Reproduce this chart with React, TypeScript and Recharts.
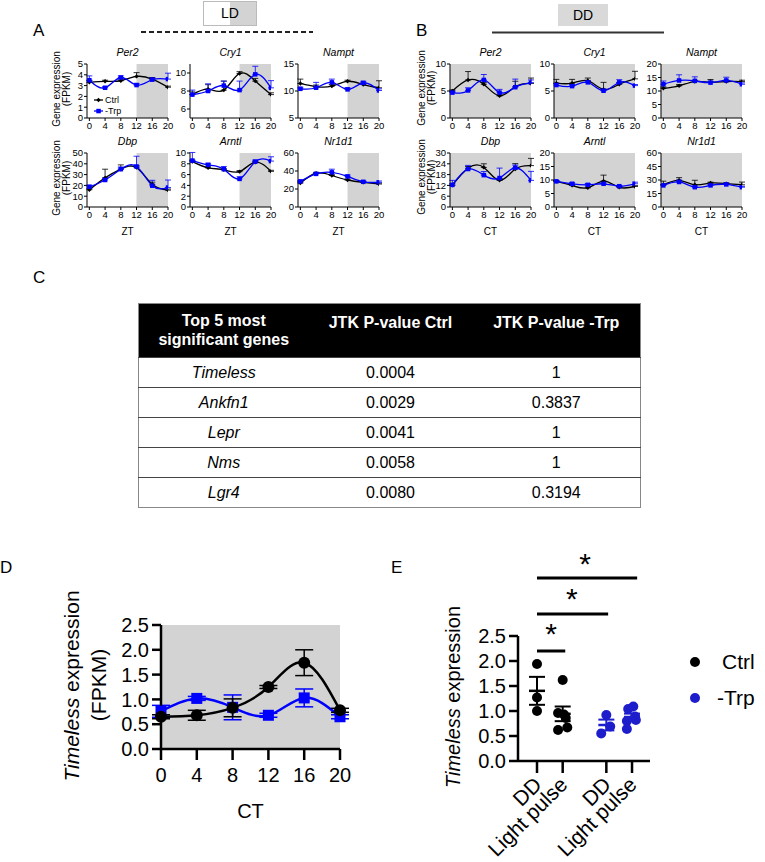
import React from 'react';
import {
  LineChart, Line, XAxis, YAxis, ReferenceArea, ErrorBar,
  ScatterChart, Scatter, ReferenceLine, ReferenceDot,
} from 'recharts';

const FONT = '"Liberation Sans", Arial, sans-serif';
const BLUE = '#0000ff';
const BLUE_E = '#1d1dcc';
const GRAY = '#d3d3d3';

const hours = [0, 4, 8, 12, 16, 20];

// panel A (LD), FPKM, upper error only
const ldPer2 = { ctrl: [3.3, 3.4, 3.45, 3.85, 3.6, 2.85], ctrlErr: [0.15, 0.1, 0.15, 0.35, 0.15, 0.1], trp: [3.5, 2.8, 3.75, 3.05, 3.55, 3.6], trpErr: [0.4, 0.1, 0.15, 0.15, 0.15, 0.55] };
const ldCry1 = { ctrl: [7.6, 8.2, 8.1, 9.95, 9.1, 7.6], ctrlErr: [0.3, 0.5, 1.0, 0.2, 0.3, 0.2], trp: [7.6, 8.0, 8.6, 8.1, 9.85, 8.35], trpErr: [0.5, 0.8, 0.5, 1.0, 0.9, 0.8] };
const ldNampt = { ctrl: [11.4, 10.8, 10.9, 11.8, 11.2, 10.6], ctrlErr: [0.8, 0.3, 0.3, 0.2, 0.3, 1.3], trp: [10.4, 10.6, 11.6, 10.3, 11.5, 10.1], trpErr: [0.3, 1.0, 0.6, 0.3, 0.3, 0.3] };
const ldDbp = { ctrl: [16, 27, 35, 36.5, 21, 15.6], ctrlErr: [1, 8, 4, 2, 2, 1], trp: [18.7, 25, 35, 37.5, 19.7, 18], trpErr: [1.5, 1.5, 2, 9.5, 5, 7] };
const ldArntl = { ctrl: [8.4, 7.25, 6.9, 6.55, 8.3, 6.6], ctrlErr: [0.3, 0.2, 0.2, 0.2, 0.2, 0.2], trp: [8.6, 7.8, 7.0, 5.2, 8.4, 8.5], trpErr: [1.5, 0.3, 0.5, 0.4, 0.3, 0.8] };
const ldNr1d1 = { ctrl: [26.6, 37.5, 35, 30, 27.4, 25.5], ctrlErr: [1, 1, 1, 1, 1, 1], trp: [28.5, 36.8, 38.5, 34, 28, 27.4], trpErr: [1, 1, 3.5, 1.5, 1, 1.5] };

// panel B (DD)
const ddPer2 = { ctrl: [5, 7.05, 6.25, 4.1, 5.8, 6.4], ctrlErr: [0.2, 1.55, 0.3, 0.2, 1.0, 1.0], trp: [4.7, 5.1, 7.05, 4.7, 5.7, 6.55], trpErr: [0.2, 0.5, 1.0, 0.6, 1.5, 0.5] };
const ddCry1 = { ctrl: [6.45, 6.45, 6.9, 5.3, 6.25, 7.25], ctrlErr: [0.7, 0.7, 0.5, 1.3, 0.3, 1.4], trp: [6.1, 5.9, 6.6, 5.05, 6.6, 6.0], trpErr: [0.3, 0.3, 0.3, 0.3, 0.5, 0.2] };
const ddNampt = { ctrl: [11, 11.9, 13.5, 13.25, 13.5, 13.5], ctrlErr: [0.5, 0.5, 0.5, 1.0, 0.5, 0.5], trp: [12.5, 13.9, 13.75, 13.1, 13.9, 12.5], trpErr: [1.2, 2.1, 1.5, 0.5, 1.2, 0.5] };
const ddDbp = { ctrl: [12, 21.5, 22, 14.8, 21.1, 23], ctrlErr: [1, 1, 2, 1, 3, 4], trp: [12.3, 21.1, 17.7, 16.1, 21.8, 14.8], trpErr: [2.5, 2, 2, 5.5, 1.5, 5] };
const ddArntl = { ctrl: [9.5, 8, 7.1, 9.6, 7.3, 7.6], ctrlErr: [0.3, 0.3, 0.3, 2.2, 0.3, 0.3], trp: [9.5, 8.6, 8.2, 8.6, 7.7, 8.6], trpErr: [0.3, 0.5, 0.5, 0.4, 0.3, 0.6] };
const ddNr1d1 = { ctrl: [24.7, 29.6, 24.7, 26.6, 25.9, 24.7], ctrlErr: [4, 3, 5, 1, 1, 3], trp: [24, 27.8, 22, 24, 25.1, 22], trpErr: [1, 2, 1, 1, 1, 1] };

// panel C
const tableHead = ['Top 5 most\nsignificant genes', 'JTK P-value Ctrl', 'JTK P-value -Trp'];
const genes = ['Timeless', 'Ankfn1', 'Lepr', 'Nms', 'Lgr4'];
const pCtrl = ['0.0004', '0.0029', '0.0041', '0.0058', '0.0080'];
const pTrp = ['1', '0.3837', '1', '1', '0.3194'];

// panel D, Timeless FPKM in DD
const dCtrl = [0.65, 0.68, 0.83, 1.25, 1.74, 0.78];
const dCtrlErr = [0.04, 0.1, 0.18, 0.03, 0.26, 0.04];
const dTrp = [0.76, 1.02, 0.84, 0.68, 1.03, 0.65];
const dTrpErr = [0.12, 0.04, 0.25, 0.04, 0.18, 0.04];

// panel E, individual animals (value, jitter in category units)
const ePos = [1, 2, 3.7, 4.7];
const eLabels = ['DD', 'Light pulse', 'DD', 'Light pulse'];
const eCtrlDD = [1.94, 1.27, 1.0];
const eCtrlDDJit = [0, 0, 0];
const eCtrlLP = [1.62, 0.96, 0.93, 0.86, 0.67, 0.62];
const eCtrlLPJit = [0, -0.18, 0.05, 0.12, 0.18, -0.18];
const eTrpDD = [0.92, 0.69, 0.55];
const eTrpDDJit = [0, 0.15, -0.2];
const eTrpLP = [1.09, 1.04, 0.89, 0.82, 0.8, 0.64];
const eTrpLPJit = [0.05, -0.15, 0.12, 0.15, -0.2, -0.2];

type Series = { ctrl: number[]; ctrlErr: number[]; trp: number[]; trpErr: number[] };

const XMIN = -0.6;

const diamond = (color: string, r: number) => (p: any) => {
  const { cx, cy, index } = p;
  if (cx == null || cy == null) return <g key={index} />;
  return <path key={index} d={`M${cx},${cy - r}L${cx + r},${cy}L${cx},${cy + r}L${cx - r},${cy}Z`} fill={color} />;
};
const square = (color: string, s: number) => (p: any) => {
  const { cx, cy, index } = p;
  if (cx == null || cy == null) return <g key={index} />;
  return <rect key={index} x={cx - s / 2} y={cy - s / 2} width={s} height={s} fill={color} />;
};
const circle = (color: string, r: number) => (p: any) => {
  const { cx, cy, index } = p;
  if (cx == null || cy == null) return <g key={index} />;
  return <circle key={index} cx={cx} cy={cy} r={r} fill={color} />;
};

function VLabel({ cx, cy, size, children }: { cx: number; cy: number; size: number; children: React.ReactNode }) {
  return (
    <div style={{ position: 'absolute', left: cx, top: cy, transform: 'translate(-50%,-50%) rotate(-90deg)', whiteSpace: 'nowrap', fontSize: size, lineHeight: 1 }}>
      {children}
    </div>
  );
}

function SmallChart({ title, s, yDomain, yTicks, x0, y0, shadeFrom, xLabel }: {
  title: string; s: Series; yDomain: number[]; yTicks: number[]; x0: number; y0: number; shadeFrom: number; xLabel?: string;
}) {
  const data = hours.map((t, i) => ({ t, ctrl: s.ctrl[i], ctrlErr: [0, s.ctrlErr[i]], trp: s.trp[i], trpErr: [0, s.trpErr[i]] }));
  const yw = 22, mt = 16, plotW = 81, plotH = 54, xh = 32, mr = 8;
  const ax = { stroke: '#000', strokeWidth: 1 };
  return (
    <div style={{ position: 'absolute', left: x0 - yw, top: y0 - mt }}>
      <div style={{ position: 'absolute', left: yw, width: plotW, top: -2, textAlign: 'center', fontStyle: 'italic', fontSize: 10.5, lineHeight: '12px' }}>{title}</div>
      <LineChart width={yw + plotW + mr} height={mt + plotH + xh} data={data} margin={{ top: mt, right: mr, left: 0, bottom: 0 }}>
        <ReferenceArea x1={shadeFrom} x2={20} fill={GRAY} fillOpacity={1} stroke="none" ifOverflow="hidden" />
        <XAxis dataKey="t" type="number" domain={[XMIN, 20]} ticks={hours} allowDataOverflow interval={0}
          tickSize={3} tickMargin={1} axisLine={ax} tickLine={ax} tick={{ fill: '#000', fontSize: 9.5 }} height={xh}
          label={xLabel ? { value: xLabel, position: 'insideBottom', offset: 4, fill: '#000', fontSize: 10 } : undefined} />
        <YAxis type="number" domain={yDomain} ticks={yTicks} allowDataOverflow interval={0} width={yw}
          tickSize={3} tickMargin={1} axisLine={ax} tickLine={ax} tick={{ fill: '#000', fontSize: 9.5 }} />
        <Line dataKey="ctrl" type="natural" stroke="#000" strokeWidth={1.3} dot={diamond('#000', 2.2)} isAnimationActive={false}>
          <ErrorBar dataKey="ctrlErr" width={3} stroke="#000" strokeWidth={0.8} direction="y" />
        </Line>
        <Line dataKey="trp" type="natural" stroke={BLUE} strokeWidth={1.3} dot={square(BLUE, 4.5)} isAnimationActive={false}>
          <ErrorBar dataKey="trpErr" width={3} stroke={BLUE} strokeWidth={0.8} direction="y" />
        </Line>
      </LineChart>
    </div>
  );
}

const ldCharts = [
  { title: 'Per2', s: ldPer2, dom: [0, 5], ticks: [0, 1, 2, 3, 4, 5] },
  { title: 'Cry1', s: ldCry1, dom: [5, 11], ticks: [6, 8, 10] },
  { title: 'Nampt', s: ldNampt, dom: [5, 15], ticks: [5, 10, 15] },
  { title: 'Dbp', s: ldDbp, dom: [0, 50], ticks: [0, 10, 20, 30, 40, 50] },
  { title: 'Arntl', s: ldArntl, dom: [0, 10], ticks: [0, 2, 4, 6, 8, 10] },
  { title: 'Nr1d1', s: ldNr1d1, dom: [0, 60], ticks: [0, 20, 40, 60] },
];
const ddCharts = [
  { title: 'Per2', s: ddPer2, dom: [0, 10], ticks: [0, 5, 10] },
  { title: 'Cry1', s: ddCry1, dom: [0, 10], ticks: [0, 5, 10] },
  { title: 'Nampt', s: ddNampt, dom: [0, 20], ticks: [0, 5, 10, 15, 20] },
  { title: 'Dbp', s: ddDbp, dom: [0, 30], ticks: [0, 6, 12, 18, 24, 30] },
  { title: 'Arntl', s: ddArntl, dom: [0, 20], ticks: [0, 5, 10, 15, 20] },
  { title: 'Nr1d1', s: ddNr1d1, dom: [0, 60], ticks: [0, 15, 30, 45, 60] },
];
const colA = [87, 190, 298];
const colB = [450, 554, 661];
const rowY = [64, 153];

function PanelD() {
  const data = hours.map((t, i) => ({ t, ctrl: dCtrl[i], ctrlErr: dCtrlErr[i], trp: dTrp[i], trpErr: dTrpErr[i] }));
  const ax = { stroke: '#000', strokeWidth: 2.5 };
  return (
    <div style={{ position: 'absolute', left: 161 - 50, top: 625 - 10 }}>
      <LineChart width={50 + 179 + 16} height={10 + 124 + 72} data={data} margin={{ top: 10, right: 16, left: 0, bottom: 0 }}>
        <ReferenceArea x1={0} x2={20} fill={GRAY} fillOpacity={1} stroke="none" />
        <XAxis dataKey="t" type="number" domain={[0, 20]} ticks={hours} interval={0} tickSize={11} tickMargin={8}
          axisLine={ax} tickLine={ax} tick={{ fill: '#000', fontSize: 20 }} height={72}
          label={{ value: 'CT', position: 'insideBottom', offset: 3, fill: '#000', fontSize: 20 }} />
        <YAxis type="number" domain={[0, 2.5]} ticks={[0, 0.5, 1, 1.5, 2, 2.5]} interval={0} width={50}
          tickFormatter={(v: number) => v.toFixed(1)} tickSize={9} tickMargin={3}
          axisLine={ax} tickLine={ax} tick={{ fill: '#000', fontSize: 20 }} />
        <Line dataKey="trp" type="natural" stroke={BLUE} strokeWidth={2.5} dot={square(BLUE, 11)} isAnimationActive={false}>
          <ErrorBar dataKey="trpErr" width={9} stroke={BLUE} strokeWidth={1.5} direction="y" />
        </Line>
        <Line dataKey="ctrl" type="natural" stroke="#000" strokeWidth={2.5} dot={circle('#000', 6)} isAnimationActive={false}>
          <ErrorBar dataKey="ctrlErr" width={9} stroke="#000" strokeWidth={1.5} direction="y" />
        </Line>
      </LineChart>
    </div>
  );
}

const mean = (a: number[]) => a.reduce((s, v) => s + v, 0) / a.length;
const sem = (a: number[]) => {
  const m = mean(a);
  return Math.sqrt(a.reduce((s, v) => s + (v - m) ** 2, 0) / (a.length - 1)) / Math.sqrt(a.length);
};

const ETick = (p: any) => {
  const i = ePos.indexOf(p.payload.value);
  return (
    <text x={0} y={0} transform={`translate(${p.x + 6},${p.y + 11}) rotate(-45)`} textAnchor="end" fontSize={21} fill="#000">
      {eLabels[i]}
    </text>
  );
};
const meanShape = (color: string) => (p: any) => (
  <line x1={p.cx - 8} x2={p.cx + 8} y1={p.cy} y2={p.cy} stroke={color} strokeWidth={2.5} />
);
const starShape = (p: any) => (
  <text x={p.cx} y={p.cy + 12} textAnchor="middle" fontSize={30} fill="#000">*</text>
);

function PanelE() {
  const pts = (vals: number[], jit: number[], pos: number) => vals.map((y, i) => ({ x: pos + jit[i], y }));
  const ctrlPts = [...pts(eCtrlDD, eCtrlDDJit, ePos[0]), ...pts(eCtrlLP, eCtrlLPJit, ePos[1])];
  const trpPts = [...pts(eTrpDD, eTrpDDJit, ePos[2]), ...pts(eTrpLP, eTrpLPJit, ePos[3])];
  const ctrlMeans = [eCtrlDD, eCtrlLP].map((g, i) => ({ x: ePos[i], y: mean(g), err: sem(g) }));
  const trpMeans = [eTrpDD, eTrpLP].map((g, i) => ({ x: ePos[i + 2], y: mean(g), err: sem(g) }));
  const ax = { stroke: '#000', strokeWidth: 2.5 };
  const bars = [
    { x2: 2.1, y: 2.2, sx: 1.55, sy: 2.58 },
    { x2: 3.77, y: 2.94, sx: 2.36, sy: 3.28 },
    { x2: 4.9, y: 3.66, sx: 2.87, sy: 3.98 },
  ];
  return (
    <div style={{ position: 'absolute', left: 518 - 55, top: 636 - 90 }}>
      <ScatterChart width={55 + 132 + 10} height={90 + 125 + 100} margin={{ top: 90, right: 10, left: 0, bottom: 0 }}>
        <XAxis type="number" dataKey="x" domain={[0.26, 5.4]} ticks={ePos} interval={0} allowDataOverflow
          tick={ETick} tickSize={12} tickMargin={2} height={100} axisLine={ax} tickLine={ax} />
        <YAxis type="number" dataKey="y" domain={[0, 2.5]} ticks={[0, 0.5, 1, 1.5, 2, 2.5]} interval={0} allowDataOverflow
          width={55} tickFormatter={(v: number) => v.toFixed(1)} tickSize={9} tickMargin={3}
          axisLine={ax} tickLine={ax} tick={{ fill: '#000', fontSize: 20 }} />
        <Scatter data={ctrlPts} fill="#000" shape={circle('#000', 5)} isAnimationActive={false} />
        <Scatter data={trpPts} fill={BLUE_E} shape={circle(BLUE_E, 5)} isAnimationActive={false} />
        <Scatter data={ctrlMeans} shape={meanShape('#000')} isAnimationActive={false}>
          <ErrorBar dataKey="err" direction="y" width={8} stroke="#000" strokeWidth={2} />
        </Scatter>
        <Scatter data={trpMeans} shape={meanShape(BLUE_E)} isAnimationActive={false}>
          <ErrorBar dataKey="err" direction="y" width={8} stroke={BLUE_E} strokeWidth={2} />
        </Scatter>
        {bars.map((b, i) => (
          <ReferenceLine key={'l' + i} segment={[{ x: ePos[0], y: b.y }, { x: b.x2, y: b.y }]} stroke="#000" strokeWidth={3} ifOverflow="visible" />
        ))}
        {bars.map((b, i) => (
          <ReferenceDot key={'s' + i} x={b.sx} y={b.sy} r={0} shape={starShape} ifOverflow="visible" />
        ))}
      </ScatterChart>
    </div>
  );
}

const cellBase: React.CSSProperties = { textAlign: 'center', padding: 0, height: 29, borderTop: '1px solid #444' };

export default function App() {
  return (
    <div style={{ position: 'absolute', left: 0, top: 0, width: 765, height: 862, background: '#fff', fontFamily: FONT, color: '#000', overflow: 'hidden' }}>
      {/* panel letters */}
      {[['A', 33, 22], ['B', 416, 22], ['C', 33, 269], ['D', 0, 559], ['E', 391, 559]].map(([t, l, tp]) => (
        <div key={t as string} style={{ position: 'absolute', left: l as number, top: tp as number, fontSize: 17, lineHeight: 1 }}>{t}</div>
      ))}

      {/* LD / DD headers */}
      <div style={{ position: 'absolute', left: 203, top: 1, width: 52, height: 23, border: '1px solid #bbb', background: `linear-gradient(to right, #fff 50%, ${GRAY} 50%)`, fontSize: 14, lineHeight: '23px', textAlign: 'center' }}>LD</div>
      <div style={{ position: 'absolute', left: 558, top: 4, width: 50, height: 22, background: '#d9d9d9', fontSize: 14, lineHeight: '22px', textAlign: 'center' }}>DD</div>
      <svg style={{ position: 'absolute', left: 0, top: 0 }} width={765} height={40}>
        <line x1={141} x2={313} y1={32} y2={32} stroke="#222" strokeWidth={2} strokeDasharray="5 3" />
        <line x1={492} x2={664} y1={32.5} y2={32.5} stroke="#333" strokeWidth={2} />
      </svg>

      {/* panels A and B */}
      {ldCharts.map((c, i) => (
        <SmallChart key={'ld' + i} title={c.title} s={c.s} yDomain={c.dom} yTicks={c.ticks}
          x0={colA[i % 3]} y0={rowY[Math.floor(i / 3)]} shadeFrom={12} xLabel={i >= 3 ? 'ZT' : undefined} />
      ))}
      {ddCharts.map((c, i) => (
        <SmallChart key={'dd' + i} title={c.title} s={c.s} yDomain={c.dom} yTicks={c.ticks}
          x0={colB[i % 3]} y0={rowY[Math.floor(i / 3)]} shadeFrom={XMIN} xLabel={i >= 3 ? 'CT' : undefined} />
      ))}
      {[[57, 67, 89], [57, 67, 178], [422, 432, 88], [422, 432, 177]].map(([a, b, cy], i) => (
        <React.Fragment key={'gl' + i}>
          <VLabel cx={a} cy={cy} size={10}>Gene expression</VLabel>
          <VLabel cx={b} cy={cy} size={10}>(FPKM)</VLabel>
        </React.Fragment>
      ))}
      <svg style={{ position: 'absolute', left: 90, top: 92 }} width={40} height={26}>
        <line x1={4} x2={13} y1={8} y2={8} stroke="#000" strokeWidth={1.3} />
        <path d="M8.5,5.8L10.7,8L8.5,10.2L6.3,8Z" fill="#000" />
        <text x={15} y={11} fontSize={9} fill="#000">Ctrl</text>
        <line x1={4} x2={13} y1={19} y2={19} stroke={BLUE} strokeWidth={1.3} />
        <rect x={6.3} y={16.8} width={4.5} height={4.5} fill={BLUE} />
        <text x={15} y={22} fontSize={9} fill="#000">-Trp</text>
      </svg>

      {/* panel C */}
      <table style={{ position: 'absolute', left: 138, top: 303, width: 502, borderCollapse: 'collapse', fontSize: 16, border: '1px solid #888', tableLayout: 'fixed' }}>
        <colgroup>
          <col style={{ width: 170 }} />
          <col style={{ width: 164 }} />
          <col style={{ width: 168 }} />
        </colgroup>
        <thead>
          <tr style={{ background: '#000', color: '#fff', height: 54 }}>
            {tableHead.map((h, i) => (
              <th key={i} style={{ fontWeight: 'bold', verticalAlign: i === 0 ? 'middle' : 'top', paddingTop: i === 0 ? 0 : 9, lineHeight: '19px', whiteSpace: 'pre-line' }}>{h}</th>
            ))}
          </tr>
        </thead>
        <tbody>
          {genes.map((g, i) => (
            <tr key={g}>
              <td style={{ ...cellBase, fontStyle: 'italic' }}>{g}</td>
              <td style={cellBase}>{pCtrl[i]}</td>
              <td style={cellBase}>{pTrp[i]}</td>
            </tr>
          ))}
        </tbody>
      </table>

      {/* panel D */}
      <PanelD />
      <VLabel cx={71} cy={686} size={21}><i>Timeless</i> expression</VLabel>
      <VLabel cx={98} cy={685} size={21}>(FPKM)</VLabel>

      {/* panel E */}
      <PanelE />
      <VLabel cx={453} cy={697} size={20}><i>Timeless</i> expression</VLabel>
      <div style={{ position: 'absolute', left: 690, top: 657, width: 10, height: 10, borderRadius: 5, background: '#000' }} />
      <div style={{ position: 'absolute', left: 722, top: 650, fontSize: 21, lineHeight: '24px' }}>Ctrl</div>
      <div style={{ position: 'absolute', left: 690, top: 693, width: 10, height: 10, borderRadius: 5, background: BLUE_E }} />
      <div style={{ position: 'absolute', left: 717, top: 686, fontSize: 21, lineHeight: '24px' }}>-Trp</div>
    </div>
  );
}
